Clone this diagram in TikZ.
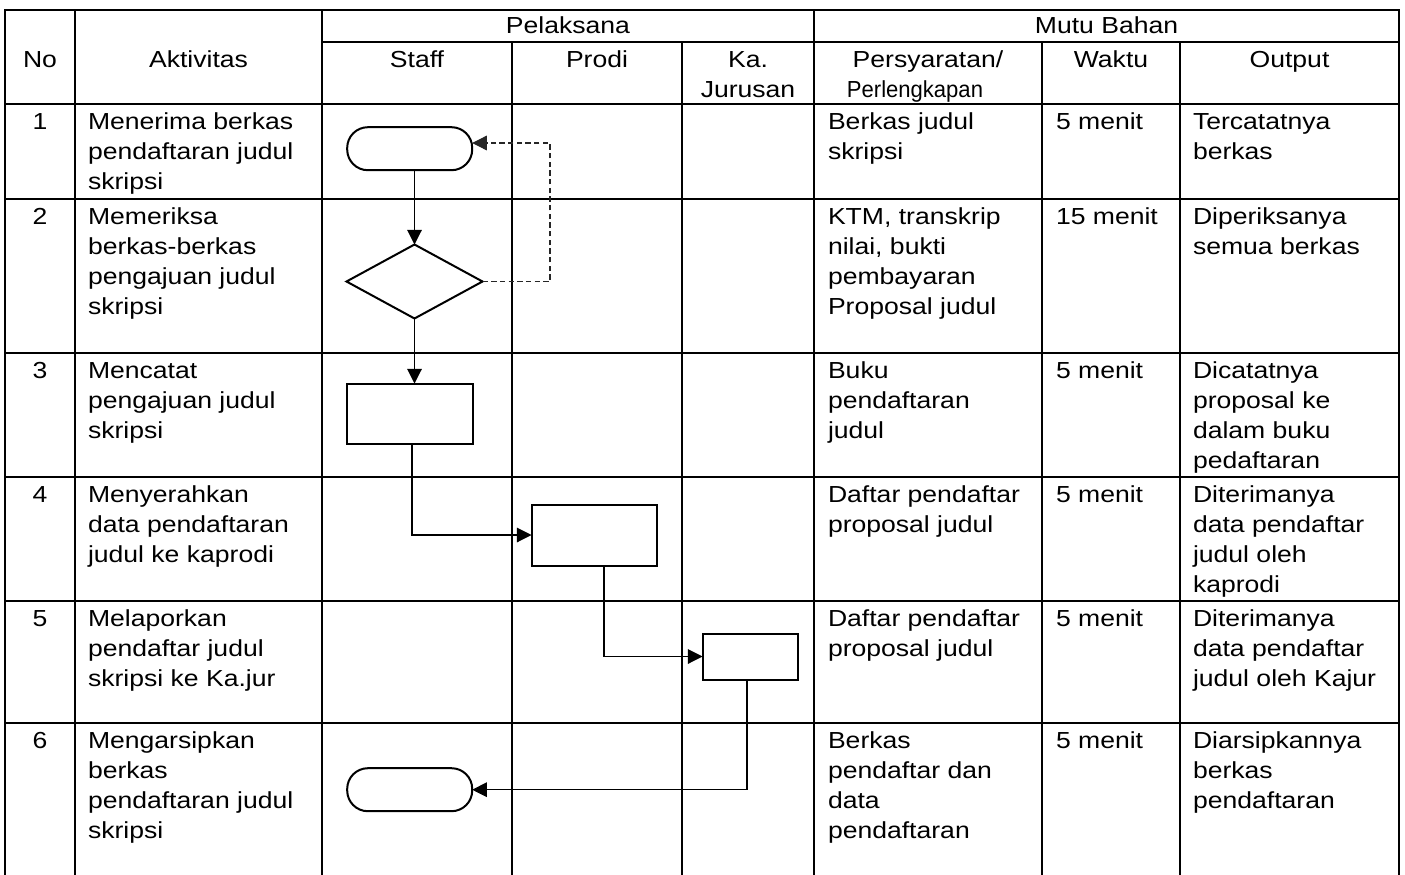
\documentclass[tikz,border=0pt]{standalone}
\usepackage{fontspec}
\usepackage{graphicx}
\setmainfont{Liberation Sans}[FakeStretch=1.145]
\usetikzlibrary{shapes.geometric,arrows.meta,calc}
\newcommand{\firstline}{\rule{0pt}{13pt}}
\tikzset{
  gridline/.style={line width=1.5pt, line cap=rect},
  txt/.style={inner sep=0pt, outer sep=0pt, font=\fontsize{17.4}{22.5}\selectfont, align=left, anchor=north west},
  ctxt/.style={txt, align=center, anchor=north},
  term/.style={draw, line width=1.5pt, rectangle, rounded corners=15.5pt, minimum width=93.75pt, minimum height=32.25pt, inner sep=0pt, outer sep=0pt},
  dec/.style={draw, line width=1.5pt, diamond, minimum width=102pt, minimum height=55.5pt, inner sep=0pt, outer sep=0pt},
  proc/.style={draw, line width=1.5pt, rectangle, inner sep=0pt, outer sep=0pt},
  conn/.style={line width=0.8pt, -{Triangle[length=11pt,width=11pt]}},
  dashconn/.style={conn, dash pattern=on 4pt off 2.5pt, draw=black!85}
}
\begin{document}
\begin{tikzpicture}[x=0.75pt,y=-0.75pt]
\useasboundingbox (0,0) rectangle (1405,874);
\fill[white] (0,0) rectangle (1405,874);
% table grid
\draw[gridline] (5,10) -- (1399,10);
\draw[gridline] (322,42) -- (1399,42);
\foreach \yy in {104,199,353,477,601,723} \draw[gridline] (5,\yy) -- (1399,\yy);
\foreach \xx in {5,75,322,814,1399} \draw[gridline] (\xx,10) -- (\xx,880);
\foreach \xx in {512,682,1042,1180} \draw[gridline] (\xx,42) -- (\xx,880);
% header
\node[ctxt] (hNo) at (40,49.67) {\firstline No};
\node[ctxt] (hAkt) at (198.5,49.67) {\firstline Aktivitas};
\node[ctxt] (hPel) at (568,15.67) {\firstline Pelaksana};
\node[ctxt] (hMutu) at (1106.5,15.67) {\firstline Mutu Bahan};
\node[ctxt] (hStaff) at (417,49.67) {\firstline Staff};
\node[ctxt] (hProdi) at (597,49.67) {\firstline Prodi};
\node[ctxt] (hKa) at (748,49.67) {\firstline Ka.\\Jurusan};
\node[ctxt] (hPers) at (928,49.67) {\firstline Persyaratan/};
\node[ctxt] (hPerl) at (915,79.67) {\firstline\scalebox{0.83}[1]{Perlengkapan}};
\node[ctxt] (hWaktu) at (1111,49.67) {\firstline Waktu};
\node[ctxt] (hOut) at (1289.5,49.67) {\firstline Output};
% row 1
\node[ctxt] (n1) at (40,111.67) {\firstline 1};
\node[txt] (a1) at (88,111.67) {\firstline Menerima berkas\\pendaftaran judul\\skripsi};
\node[txt] (p1) at (828,111.67) {\firstline Berkas judul\\skripsi};
\node[txt] (w1) at (1056,111.67) {\firstline 5 menit};
\node[txt] (o1) at (1193,111.67) {\firstline Tercatatnya\\berkas};
% row 2
\node[ctxt] (n2) at (40,206.67) {\firstline 2};
\node[txt] (a2) at (88,206.67) {\firstline Memeriksa\\berkas-berkas\\pengajuan judul\\skripsi};
\node[txt] (p2) at (828,206.67) {\firstline KTM, transkrip\\nilai, bukti\\pembayaran\\Proposal judul};
\node[txt] (w2) at (1056,206.67) {\firstline 15 menit};
\node[txt] (o2) at (1193,206.67) {\firstline Diperiksanya\\semua berkas};
% row 3
\node[ctxt] (n3) at (40,360.67) {\firstline 3};
\node[txt] (a3) at (88,360.67) {\firstline Mencatat\\pengajuan judul\\skripsi};
\node[txt] (p3) at (828,360.67) {\firstline Buku\\pendaftaran\\judul};
\node[txt] (w3) at (1056,360.67) {\firstline 5 menit};
\node[txt] (o3) at (1193,360.67) {\firstline Dicatatnya\\proposal ke\\dalam buku\\pedaftaran};
% row 4
\node[ctxt] (n4) at (40,484.67) {\firstline 4};
\node[txt] (a4) at (88,484.67) {\firstline Menyerahkan\\data pendaftaran\\judul ke kaprodi};
\node[txt] (p4) at (828,484.67) {\firstline Daftar pendaftar\\proposal judul};
\node[txt] (w4) at (1056,484.67) {\firstline 5 menit};
\node[txt] (o4) at (1193,484.67) {\firstline Diterimanya\\data pendaftar\\judul oleh\\kaprodi};
% row 5
\node[ctxt] (n5) at (40,608.67) {\firstline 5};
\node[txt] (a5) at (88,608.67) {\firstline Melaporkan\\pendaftar judul\\skripsi ke Ka.jur};
\node[txt] (p5) at (828,608.67) {\firstline Daftar pendaftar\\proposal judul};
\node[txt] (w5) at (1056,608.67) {\firstline 5 menit};
\node[txt] (o5) at (1193,608.67) {\firstline Diterimanya\\data pendaftar\\judul oleh Kajur};
% row 6
\node[ctxt] (n6) at (40,730.67) {\firstline 6};
\node[txt] (a6) at (88,730.67) {\firstline Mengarsipkan\\berkas\\pendaftaran judul\\skripsi};
\node[txt] (p6) at (828,730.67) {\firstline Berkas\\pendaftar dan\\data\\pendaftaran};
\node[txt] (w6) at (1056,730.67) {\firstline 5 menit};
\node[txt] (o6) at (1193,730.67) {\firstline Diarsipkannya\\berkas\\pendaftaran};
% flow shapes
\node[term] (t1) at (409.7,148.7) {};
\node[dec] (d2) at (414.5,281.5) {};
\node[proc, minimum width=94.5pt, minimum height=45pt] (r3) at (409.5,413.5) {};
\node[proc, minimum width=93.75pt, minimum height=45.75pt] (r4) at (594,535) {};
\node[proc, minimum width=71.25pt, minimum height=34.5pt] (r5) at (750,656.5) {};
\node[term] (t6) at (409.7,789.7) {};
% connectors
\draw[conn] (t1.south -| d2.north) -- (d2.north);
\draw[conn] (d2.south) -- (d2.south |- r3.north);
\coordinate (loop) at (550,143);
\draw[dashconn] (d2.east) -| (loop) -- (loop -| t1.east);
\draw[conn] ($(r3.south)+(2.5,0)$) |- (r4.west);
\draw[conn] ($(r4.south)+(10,0)$) |- (r5.west);
\draw[conn] ($(r5.south)+(-3,0)$) |- (t6.east);
\end{tikzpicture}
\end{document}
